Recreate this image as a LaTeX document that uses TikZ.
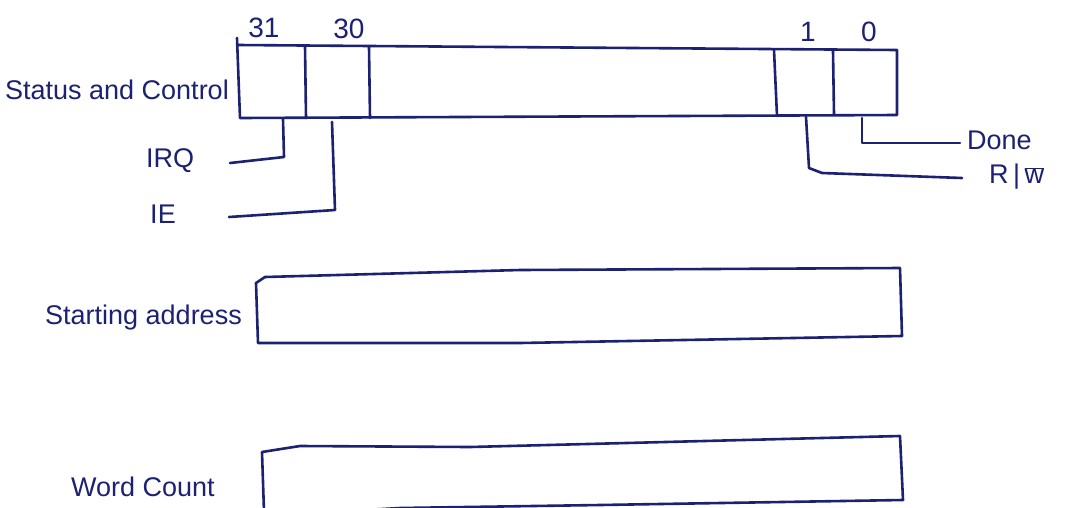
\documentclass[tikz,border=0pt]{standalone}
\usepackage{fontspec}
\setmainfont{Liberation Sans}
\definecolor{inkc}{HTML}{1C2172}
\tikzset{
  ink/.style={draw=inkc, line width=2.6pt, line join=round, line cap=round},
  lbl/.style={text=inkc, font=\fontsize{27}{30}\selectfont, inner sep=1pt},
  bitlbl/.style={text=inkc, font=\fontsize{28}{30}\selectfont, inner sep=1pt},
}
\begin{document}
\begin{tikzpicture}[x=1pt,y=-1pt]
\useasboundingbox (0,0) rectangle (1074,507);
\fill[white] (0,0) rectangle (1074,507);

% ---------- Status and Control register ----------
\coordinate (sc-tl) at (238,45);
\coordinate (sc-tr) at (897,50);
\coordinate (sc-br) at (897,115);
\coordinate (sc-bl) at (240,118);
\draw[ink] (237,38) -- (sc-bl) -- (sc-br) -- (sc-tr) -- (sc-tl);
\draw[ink] (305,46) -- (306,118);
\draw[ink] (369,47) -- (370,118);
\draw[ink] (774,50) -- (777,116);
\draw[ink] (833,51) -- (834,114);

\node[lbl, anchor=east] (sclabel) at (230,90) {Status and Control};

% bit numbers
\node[bitlbl] (b31) at (264,28) {31};
\node[bitlbl] (b30) at (349,29) {30};
\node[bitlbl] (b1) at (808,32) {1};
\node[bitlbl] (b0) at (869,32) {0};

% IRQ
\node[lbl] (irq) at (170,161) {IRQ};
\coordinate (irq-a) at (283,119);
\coordinate (irq-b) at (284,157);
\coordinate (irq-c) at (230,163);
\draw[ink] (irq-a) -- (irq-b) -- (irq-c);

% IE
\node[lbl] (ie) at (163,214) {IE};
\coordinate (ie-a) at (332,122);
\coordinate (ie-b) at (335,210);
\coordinate (ie-c) at (229,217);
\draw[ink] (ie-a) -- (ie-b) -- (ie-c);

% Done
\node[lbl, anchor=west] (done) at (966,140) {Done};
\coordinate (dn-a) at (862,118);
\coordinate (dn-b) at (862,143);
\coordinate (dn-c) at (960,143);
\draw[ink] (dn-a) -- (dn-b) -- (dn-c);

% R/W
\node[lbl, anchor=west] (rw) at (988,177) {R\,|\,$\overline{\hbox{w}}$};
\coordinate (rw-a) at (806,117);
\coordinate (rw-b) at (809,168);
\coordinate (rw-c) at (822,173);
\coordinate (rw-d) at (962,178);
\draw[ink] (rw-a) -- (rw-b) -- (rw-c) -- (rw-d);

% ---------- Starting address register ----------
\node[lbl, anchor=east] (salabel) at (243,318) {Starting address};
\draw[ink] (256,283) -- (265,277) -- (520,270) -- (900,268) -- (902,336)
  -- (520,343) -- (258,343) -- cycle;

% ---------- Word count register ----------
\node[lbl] (wclabel) at (143,487) {Word Count};
\draw[ink] (264,512) -- (262,452) -- (300,446) -- (470,447) -- (900,436)
  -- (903,500) -- (600,505) -- (400,508) -- (330,512);
\end{tikzpicture}
\end{document}
